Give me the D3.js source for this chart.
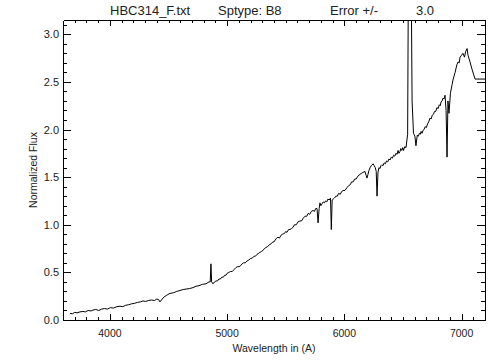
<!DOCTYPE html>
<html>
<head>
<meta charset="utf-8">
<script src="https://cdn.jsdelivr.net/npm/d3@7"></script>
<style>
    body { margin: 0; background: #fff; }
    svg text { font-family: "Liberation Sans", Arial, sans-serif; fill: #222; }
</style>
</head>
<body>
<div id="chart"></div>
<script>
// spectrum: [wavelength (A), normalized flux]
var spectrum = [
    [3660, 0.070], [3680, 0.065], [3700, 0.080], [3720, 0.075], [3745, 0.085], [3770, 0.090],
    [3790, 0.085], [3815, 0.100], [3840, 0.095], [3856, 0.105], [3880, 0.110], [3905, 0.100],
    [3930, 0.115], [3955, 0.120], [3980, 0.115], [4005, 0.130], [4030, 0.125], [4060, 0.140],
    [4086, 0.145], [4110, 0.140], [4135, 0.155], [4160, 0.160], [4185, 0.170], [4210, 0.175],
    [4235, 0.185], [4260, 0.190], [4282, 0.200], [4305, 0.195], [4330, 0.205], [4355, 0.210],
    [4380, 0.205], [4400, 0.220], [4415, 0.215], [4427, 0.190], [4440, 0.210], [4460, 0.240],
    [4485, 0.260], [4513, 0.280], [4540, 0.285], [4570, 0.300], [4598, 0.310], [4625, 0.320],
    [4650, 0.325], [4680, 0.330], [4709, 0.340], [4735, 0.355], [4760, 0.360], [4790, 0.375],
    [4820, 0.380], [4845, 0.400], [4856, 0.400], [4862, 0.590], [4868, 0.400], [4880, 0.380],
    [4893, 0.400], [4905, 0.410], [4918, 0.410], [4930, 0.430], [4942, 0.430], [4955, 0.450],
    [4968, 0.450], [4980, 0.470], [4990, 0.470], [5000, 0.490], [5015, 0.500], [5030, 0.510],
    [5045, 0.510], [5060, 0.530], [5075, 0.550], [5090, 0.560], [5102, 0.560], [5115, 0.570],
    [5128, 0.590], [5140, 0.600], [5155, 0.600], [5170, 0.620], [5185, 0.630], [5200, 0.645],
    [5215, 0.650], [5230, 0.670], [5242, 0.670], [5255, 0.690], [5268, 0.700], [5280, 0.710],
    [5293, 0.720], [5306, 0.730], [5318, 0.750], [5330, 0.760], [5345, 0.770], [5360, 0.790],
    [5375, 0.800], [5390, 0.820], [5400, 0.820], [5410, 0.840], [5422, 0.860], [5434, 0.870],
    [5446, 0.860], [5460, 0.890], [5472, 0.900], [5490, 0.910], [5500, 0.930], [5510, 0.920],
    [5525, 0.950], [5537, 0.950], [5548, 0.960], [5560, 0.970], [5575, 1.000], [5590, 1.000],
    [5605, 1.030], [5622, 1.040], [5635, 1.040], [5650, 1.070], [5665, 1.090], [5680, 1.090],
    [5692, 1.120], [5705, 1.110], [5718, 1.140], [5733, 1.150], [5745, 1.140], [5755, 1.170],
    [5767, 1.170], [5776, 1.020], [5785, 1.170], [5792, 1.230], [5800, 1.200], [5810, 1.220],
    [5820, 1.240], [5830, 1.230], [5840, 1.250], [5850, 1.240], [5860, 1.270], [5870, 1.260],
    [5882, 1.280], [5889, 0.950], [5896, 1.260], [5905, 1.270], [5915, 1.280], [5927, 1.300],
    [5940, 1.300], [5952, 1.330], [5965, 1.320], [5978, 1.350], [5990, 1.360], [6005, 1.360],
    [6023, 1.390], [6036, 1.410], [6050, 1.420], [6062, 1.450], [6075, 1.450], [6088, 1.480],
    [6100, 1.480], [6115, 1.510], [6134, 1.530], [6147, 1.540], [6160, 1.550], [6176, 1.560],
    [6186, 1.520], [6193, 1.490], [6202, 1.530], [6210, 1.570], [6220, 1.600], [6230, 1.620],
    [6245, 1.640], [6255, 1.620], [6264, 1.600], [6272, 1.560], [6279, 1.300], [6287, 1.550],
    [6295, 1.600], [6304, 1.590], [6312, 1.620], [6320, 1.630], [6330, 1.620], [6340, 1.650],
    [6350, 1.640], [6360, 1.670], [6370, 1.660], [6380, 1.690], [6390, 1.680], [6400, 1.710],
    [6410, 1.700], [6420, 1.730], [6430, 1.720], [6440, 1.750], [6450, 1.740], [6458, 1.780],
    [6466, 1.750], [6475, 1.770], [6482, 1.800], [6490, 1.780], [6498, 1.810], [6505, 1.780],
    [6515, 1.820], [6526, 1.810], [6540, 1.950], [6548, 4.000], [6556, 3.200], [6562, 3.200],
    [6568, 4.000], [6578, 2.300], [6590, 1.960], [6602, 1.930], [6611, 1.830], [6622, 1.940],
    [6632, 1.930], [6640, 1.960], [6648, 1.950], [6655, 1.980], [6663, 1.960], [6671, 1.990],
    [6680, 2.000], [6690, 2.030], [6700, 2.020], [6710, 2.060], [6720, 2.080], [6731, 2.120],
    [6740, 2.110], [6750, 2.150], [6760, 2.160], [6770, 2.190], [6780, 2.190], [6790, 2.230],
    [6800, 2.220], [6810, 2.260], [6818, 2.250], [6825, 2.290], [6834, 2.300], [6842, 2.330],
    [6850, 2.320], [6859, 2.360], [6868, 2.200], [6876, 1.710], [6884, 2.300], [6893, 2.170],
    [6905, 2.380], [6919, 2.470], [6927, 2.520], [6945, 2.600], [6960, 2.680], [6970, 2.710],
    [6980, 2.700], [6987, 2.760], [7000, 2.780], [7012, 2.800], [7025, 2.760], [7035, 2.820],
    [7047, 2.850], [7055, 2.780], [7072, 2.710], [7090, 2.630], [7115, 2.530], [7200, 2.530]
];
var xTicks = [4000, 5000, 6000, 7000];
var yTicks = [0.0, 0.5, 1.0, 1.5, 2.0, 2.5, 3.0];
var titleParts = ["HBC314_F.txt", "Sptype: B8", "Error +/-", "3.0"];

var width = 504, height = 360;
var plot = {left: 63, right: 485, top: 20, bottom: 320};

var svg = d3.select("#chart").append("svg")
    .attr("width", width)
    .attr("height", height);

var xScale = d3.scaleLinear().domain([3600, 7200]).range([plot.left, plot.right]);
var yScale = d3.scaleLinear().domain([0, 3.15]).range([plot.bottom, plot.top]);

// clip so H-alpha runs off the top like in IDL
svg.append("clipPath").attr("id", "plotClip")
    .append("rect")
    .attr("x", plot.left).attr("y", plot.top)
    .attr("width", plot.right - plot.left).attr("height", plot.bottom - plot.top);

var line = d3.line()
    .x(function(d) { return xScale(d[0]); })
    .y(function(d) { return yScale(d[1]); });

svg.append("path")
    .datum(spectrum)
    .attr("clip-path", "url(#plotClip)")
    .attr("fill", "none")
    .attr("stroke", "#000")
    .attr("stroke-width", 1)
    .attr("d", line);

// axes, ticks inward on all four sides
var yMajorLen = 8.4, xMajorLen = 6;
var g = svg.append("g").attr("shape-rendering", "crispEdges");

function addAxis(axis, scale, transform, vals, len) {
    g.append("g")
        .attr("transform", transform)
        .call(axis(scale).tickValues(vals).tickSize(-len).tickSizeOuter(0).tickFormat(""))
        .call(function(s) {
            s.select(".domain").attr("stroke", "#000");
            s.selectAll(".tick line").attr("stroke", "#000");
            s.selectAll(".tick text").remove();
        });
}

var xMinor = d3.range(3700, 7200, 100).filter(function(v) { return v % 1000 !== 0; });
var yMinor = d3.range(1, 32).map(function(v) { return v / 10; }).filter(function(v) { return Math.round(v * 10) % 5 !== 0; });

addAxis(d3.axisBottom, xScale, "translate(0," + plot.bottom + ")", xTicks, xMajorLen);
addAxis(d3.axisBottom, xScale, "translate(0," + plot.bottom + ")", xMinor, xMajorLen / 2);
addAxis(d3.axisTop, xScale, "translate(0," + plot.top + ")", xTicks, xMajorLen);
addAxis(d3.axisTop, xScale, "translate(0," + plot.top + ")", xMinor, xMajorLen / 2);
addAxis(d3.axisLeft, yScale, "translate(" + plot.left + ",0)", yTicks, yMajorLen);
addAxis(d3.axisLeft, yScale, "translate(" + plot.left + ",0)", yMinor, yMajorLen / 2);
addAxis(d3.axisRight, yScale, "translate(" + plot.right + ",0)", yTicks, yMajorLen);
addAxis(d3.axisRight, yScale, "translate(" + plot.right + ",0)", yMinor, yMajorLen / 2);

// tick labels
svg.append("g").selectAll("text")
    .data(xTicks)
    .enter()
    .append("text")
    .attr("x", function(d) { return xScale(d); })
    .attr("y", plot.bottom + 17)
    .attr("text-anchor", "middle")
    .style("font-size", "10.5px")
    .text(function(d) { return d; });

svg.append("g").selectAll("text")
    .data(yTicks)
    .enter()
    .append("text")
    .attr("x", plot.left - 4)
    .attr("y", function(d) { return yScale(d) + 4; })
    .attr("text-anchor", "end")
    .style("font-size", "11px")
    .text(function(d) { return d.toFixed(1); });

// axis titles
svg.append("text")
    .attr("x", (plot.left + plot.right) / 2)
    .attr("y", 352)
    .attr("text-anchor", "middle")
    .style("font-size", "10.5px")
    .text("Wavelength in (A)");

svg.append("text")
    .attr("transform", "translate(37," + ((plot.top + plot.bottom) / 2) + ") rotate(-90)")
    .attr("text-anchor", "middle")
    .style("font-size", "10.5px")
    .text("Normalized Flux");

// title
var titleX = [110, 218, 330, 416];
svg.append("g").selectAll("text")
    .data(titleParts)
    .enter()
    .append("text")
    .attr("x", function(d, i) { return titleX[i]; })
    .attr("y", 15)
    .style("font-size", "13px")
    .text(function(d) { return d; });
</script>
</body>
</html>
